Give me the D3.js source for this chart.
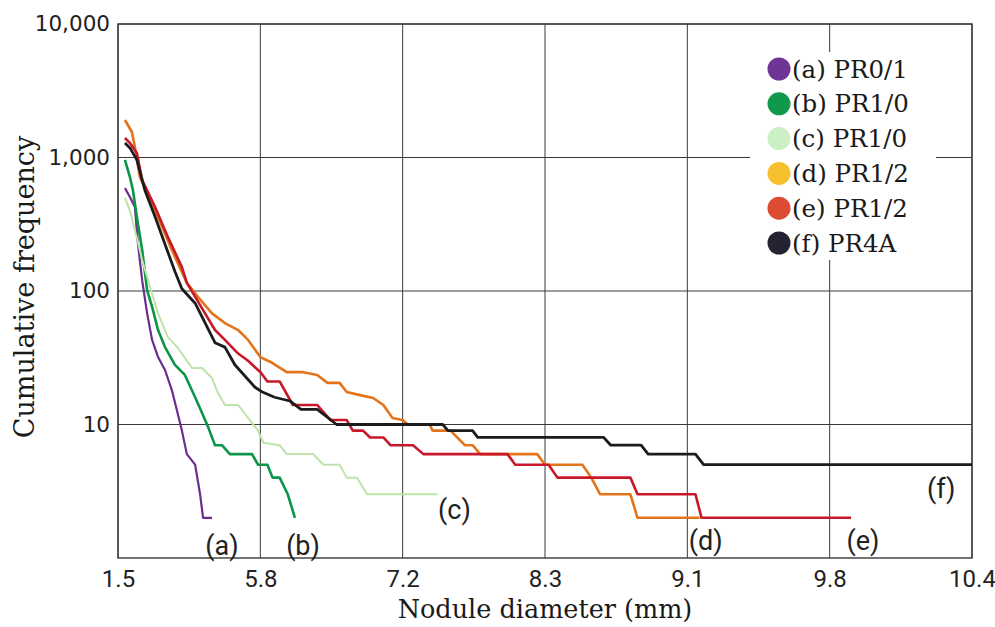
<!DOCTYPE html>
<html>
<head>
<meta charset="utf-8">
<script src="https://cdn.jsdelivr.net/npm/d3@7"></script>
<style>
  body { margin: 0; background: #fff; }
  svg { display: block; }
</style>
</head>
<body>
<svg id="chart" width="995" height="627"></svg>
<script>
// tick labels on the x axis (evenly spaced, non-linear in mm)
const xTicks = [1.5, 5.8, 7.2, 8.3, 9.1, 9.8, 10.4]
const yTicks = [10, 100, 1000, 10000]

const seriesNames = ["(a) PR0/1", "(b) PR1/0", "(c) PR1/0", "(d) PR1/2", "(e) PR1/2", "(f) PR4A"]
const curveTags = ["(a)", "(b)", "(c)", "(d)", "(e)", "(f)"]

// [diameter mm, cumulative frequency]
const seriesA = [[1.71,590],[1.86,506],[2.01,426],[2.10,229],[2.23,120],[2.38,68],[2.53,43],[2.71,32],[2.92,25.6],
  [3.13,18],[3.28,12.8],[3.43,9],[3.58,6],[3.83,5],[3.98,3],[4.07,2],[4.34,2]]

const seriesB = [[1.71,958],[1.86,714],[1.95,571],[2.07,358],[2.23,203],[2.38,101],[2.53,76],[2.71,51],[2.92,38],
  [3.22,28],[3.52,23.5],[3.83,16],[4.04,12.2],[4.22,9.6],[4.43,7],[4.64,7],[4.88,6],[5.55,6],[5.73,5],[5.87,5],
  [5.92,4],[5.99,4],[6.07,3],[6.14,2]]

const seriesC = [[1.71,500],[1.86,400],[2.07,250],[2.23,170],[2.41,120],[2.71,68],[3.01,45],[3.31,37.5],[3.58,30],
  [3.74,26.5],[4.04,26.5],[4.34,22.3],[4.52,17.2],[4.73,14],[5.13,14],[5.43,11.2],[5.73,9],[5.83,7.3],[5.99,7],
  [6.06,6],[6.32,6],[6.42,5],[6.58,5],[6.65,4],[6.75,4],[6.85,3],[7.47,3]]

const seriesD = [[1.71,1910],[1.92,1552],[2.01,1200],[2.16,714],[2.62,403],[3.13,202],[3.58,115],[3.92,90],[4.34,68],
  [4.73,57.5],[5.13,51],[5.43,43],[5.80,32],[5.90,29.4],[6.06,24.7],[6.21,24.7],[6.36,23.5],[6.46,20.5],[6.58,20.5],
  [6.65,17.5],[6.78,16.6],[6.91,15.8],[7.01,14],[7.10,11.2],[7.20,10.8],[7.24,10],[7.41,10],[7.43,9],[7.57,9],
  [7.68,7],[7.74,7],[7.80,6],[8.24,6],[8.30,5],[8.51,5],[8.56,4],[8.61,3],[8.78,3],[8.82,2],[9.16,2]]

const seriesE = [[1.71,1400],[1.86,1285],[2.07,1081],[2.23,678],[2.62,426],[3.01,253],[3.43,151],[3.58,115],[4.04,74],
  [4.43,51],[4.73,43],[5.13,34],[5.43,30],[5.73,25.6],[5.80,24.7],[5.87,21],[5.99,21],[6.12,14],[6.36,14],[6.49,10.8],
  [6.65,10.8],[6.71,9],[6.81,9],[6.88,8],[7.01,8],[7.08,7],[7.28,7],[7.36,6],[8.01,6],[8.07,5],[8.32,5],[8.37,4],
  [8.78,4],[8.82,3],[9.14,3],[9.17,2],[9.89,2]]

const seriesF = [[1.71,1285],[1.86,1180],[2.07,960],[2.32,560],[2.62,360],[2.92,224],[3.22,140],[3.43,104],[3.83,81],
  [4.43,41],[4.73,38],[5.03,28],[5.34,23],[5.64,19],[5.82,17.5],[5.94,16],[6.09,15],[6.2,13],[6.36,13],[6.55,10],
  [7.51,10],[7.55,9],[7.74,9],[7.78,8],[8.63,8],[8.67,7],[8.84,7],[8.88,6],[9.14,6],[9.18,5],[10.4,5]]

// where the (a)..(f) tags sit, in data units
const tagPos = [[4.64,1.25],[6.22,1.25],[7.60,2.29],[9.19,1.36],[9.94,1.34],[10.27,3.34]]

const lineColors = ["#6b2d8f", "#0b9546", "#bfe3aa", "#e3741a", "#c8182a", "#1c1c1c"]
const dotColors = ["#6f3595", "#10994c", "#ccf0c4", "#f7c02e", "#dd4b33", "#232332"]
const lineWidths = [2.2, 2.6, 2, 2.6, 2.6, 2.8]

const allSeries = [seriesA, seriesB, seriesC, seriesD, seriesE, seriesF]

const margin = { left: 118, right: 23, top: 24, bottom: 69 }
const W = 995, H = 627
const svg = d3.select("#chart")

const x = d3.scaleLinear()
  .domain(xTicks)
  .range(xTicks.map((d, i) => margin.left + i * (W - margin.left - margin.right) / (xTicks.length - 1)))

const y = d3.scaleLog()
  .domain([1, 10000])
  .range([H - margin.bottom, margin.top])

// grid
const grid = svg.append("g").attr("stroke", "#3a3a3a").attr("stroke-width", 1)
grid.selectAll(".vg")
  .data(xTicks)
  .join("line")
  .attr("x1", d => x(d)).attr("x2", d => x(d))
  .attr("y1", y(1)).attr("y2", y(10000))
grid.selectAll(".hg")
  .data(yTicks)
  .join("line")
  .attr("x1", x(1.5)).attr("x2", x(10.4))
  .attr("y1", d => y(d)).attr("y2", d => y(d))
svg.append("rect")
  .attr("x", x(1.5)).attr("y", y(10000))
  .attr("width", x(10.4) - x(1.5)).attr("height", y(1) - y(10000))
  .attr("fill", "none").attr("stroke", "#3a3a3a").attr("stroke-width", 1.4)

// axes
const yAxis = d3.axisLeft(y).tickValues(yTicks).tickFormat(d3.format(",")).tickSize(0).tickPadding(8)
svg.append("g")
  .attr("transform", `translate(${margin.left},0)`)
  .call(yAxis)
  .call(g => g.select(".domain").remove())
  .selectAll("text")
  .attr("font-family", "DejaVu Sans, sans-serif")
  .attr("font-size", 21.5)
  .attr("fill", "#222")

const xAxis = d3.axisBottom(x).tickValues(xTicks).tickFormat(d3.format(".1f")).tickSize(0).tickPadding(12)
svg.append("g")
  .attr("transform", `translate(0,${H - margin.bottom})`)
  .call(xAxis)
  .call(g => g.select(".domain").remove())
  .selectAll("text")
  .attr("font-family", "Liberation Sans Narrow, Roboto, sans-serif")
  .attr("font-size", 24)
  .attr("fill", "#222")

svg.append("text")
  .attr("x", (x(1.5) + x(10.4)) / 2).attr("y", 618)
  .attr("text-anchor", "middle")
  .attr("font-family", "DejaVu Serif, serif")
  .attr("font-size", 25.5)
  .attr("fill", "#1a1a1a")
  .text("Nodule diameter (mm)")

svg.append("text")
  .attr("transform", `translate(34,${(y(1) + y(10000)) / 2 - 4}) rotate(-90)`)
  .attr("text-anchor", "middle")
  .attr("font-family", "DejaVu Serif, serif")
  .attr("font-size", 27)
  .attr("fill", "#1a1a1a")
  .text("Cumulative frequency")

// curves
const line = d3.line()
  .x(d => x(d[0]))
  .y(d => y(d[1]))
  .curve(d3.curveLinear)

svg.selectAll(".curve")
  .data(allSeries)
  .join("path")
  .attr("class", "curve")
  .attr("d", line)
  .attr("fill", "none")
  .attr("stroke", (d, i) => lineColors[i])
  .attr("stroke-width", (d, i) => lineWidths[i])
  .attr("stroke-linejoin", "round")

// curve tags
svg.selectAll(".tag")
  .data(tagPos)
  .join("text")
  .attr("class", "tag")
  .attr("x", d => x(d[0]))
  .attr("y", d => y(d[1]))
  .attr("dy", "0.35em")
  .attr("text-anchor", "middle")
  .attr("font-family", "Liberation Sans Narrow, Roboto, sans-serif")
  .attr("font-size", 27)
  .attr("fill", "#222")
  .text((d, i) => curveTags[i])

// legend
const lg = svg.append("g").attr("transform", "translate(750,52)")
lg.append("rect").attr("width", 186).attr("height", 208).attr("fill", "#fff")
const rows = lg.selectAll(".row")
  .data(seriesNames)
  .join("g")
  .attr("class", "row")
  .attr("transform", (d, i) => `translate(0,${17 + i * 34.8})`)
rows.append("circle")
  .attr("cx", 29).attr("r", 11.5)
  .attr("fill", (d, i) => dotColors[i])
rows.append("text")
  .attr("x", 42).attr("dy", "0.35em")
  .attr("font-family", "DejaVu Serif, serif")
  .attr("font-size", 24.5)
  .attr("fill", "#1a1a1a")
  .text(d => d)
</script>
</body>
</html>
